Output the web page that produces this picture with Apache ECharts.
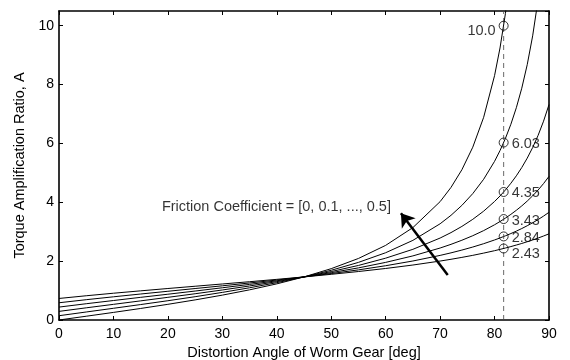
<!DOCTYPE html>
<html><head><meta charset="utf-8">
<script src="https://cdn.jsdelivr.net/npm/echarts@6/dist/echarts.min.js"></script>
<style>html,body{margin:0;padding:0;background:#fff}#c{width:570px;height:360px}</style>
</head><body><div id="c"></div>
<script>
// Distortion angle [deg]
const angles = [0,5,10,15,20,25,30,35,40,45,50,55,60,65,70,72,74,76,78,80,81,82,83,84,85,86,87,88,89,90];
// Torque amplification ratio for friction coefficients 0 ... 0.5
const mu00 = [0,0.128,0.258,0.392,0.533,0.683,0.845,1.025,1.228,1.464,1.745,2.091,2.536,3.140,4.022,4.506,5.106,5.872,6.888,8.303,9.243,10.417,11.923];
const mu01 = [0.146,0.272,0.398,0.525,0.655,0.792,0.938,1.095,1.268,1.464,1.690,1.958,2.286,2.706,3.270,3.557,3.894,4.295,4.783,5.391,5.756,6.172,6.652,7.213,7.877,8.676,9.656,10.889];
const mu02 = [0.293,0.414,0.532,0.650,0.770,0.892,1.020,1.156,1.303,1.464,1.645,1.854,2.101,2.402,2.785,2.970,3.180,3.421,3.699,4.027,4.214,4.420,4.647,4.899,5.181,5.500,5.861,6.275,6.756,7.320];
const mu03 = [0.439,0.553,0.662,0.770,0.876,0.984,1.095,1.210,1.332,1.464,1.609,1.771,1.958,2.178,2.446,2.571,2.710,2.864,3.038,3.236,3.346,3.463,3.590,3.728,3.877,4.041,4.220,4.417,4.636,4.880];
const mu04 = [0.586,0.690,0.788,0.883,0.976,1.069,1.162,1.258,1.358,1.464,1.578,1.703,1.844,2.005,2.195,2.282,2.376,2.479,2.593,2.719,2.788,2.861,2.938,3.020,3.108,3.203,3.304,3.413,3.531,3.660];
const mu05 = [0.732,0.824,0.910,0.991,1.070,1.147,1.224,1.301,1.381,1.464,1.552,1.647,1.751,1.868,2.003,2.063,2.128,2.197,2.273,2.355,2.400,2.446,2.495,2.547,2.601,2.659,2.720,2.785,2.854,2.928];
const curves = [mu00, mu01, mu02, mu03, mu04, mu05];
// Marked values at the reference angle
const markAngle = 81.67;
const markValues = [10.0, 6.03, 4.35, 3.43, 2.84, 2.43];
const markLabels = ['10.0', '6.03', '4.35', '3.43', '2.84', '2.43'];
const xTicks = [0,10,20,30,40,50,60,70,80,90];
const yTicks = [0,2,4,6,8,10];
const annotText = 'Friction Coefficient = [0, 0.1, ..., 0.5]';
const annotPos = [18.9, 3.83];
const arrowFrom = [71.4, 1.53];
const arrowTo = [62.8, 3.63];

const FONT = "'Liberation Sans', Arial, Helvetica, sans-serif";
const FS = 14.5;
const chart = echarts.init(document.getElementById('c'), null, {renderer: 'canvas'});

const curveSeries = curves.map(vals => ({
  type: 'line',
  data: vals.map((v, i) => [angles[i], v]),
  showSymbol: false,
  symbol: 'none',
  clip: true,
  lineStyle: {color: '#000', width: 1},
  silent: true
}));

const labelOffsets = [
  {position: 'left', offset: [-1, 5]},
  {position: 'right', offset: [1, 1]},
  {position: 'right', offset: [1, 1]},
  {position: 'right', offset: [1, 2]},
  {position: 'right', offset: [1, 2]},
  {position: 'right', offset: [1, 6]}
];

const axisLineStyle = {color: '#000', width: 1.6};
const tickStyle = {show: true, inside: true, length: 4, lineStyle: {color: '#000', width: 1}};

const option = {
  animation: false,
  backgroundColor: '#fff',
  textStyle: {fontFamily: FONT},
  grid: {left: 59, right: 21, top: 11, bottom: 40, show: false, containLabel: false, outerBoundsMode: 'none'},
  xAxis: [{
    type: 'value', min: 0, max: 90, interval: 10, position: 'bottom',
    name: 'Distortion Angle of Worm Gear [deg]', nameLocation: 'middle', nameGap: 22,
    nameTextStyle: {color: '#000', fontSize: FS, fontFamily: FONT},
    axisLine: {show: true, onZero: false, lineStyle: axisLineStyle},
    axisTick: tickStyle,
    axisLabel: {color: '#000', fontSize: 14, margin: 7, fontFamily: FONT,
      formatter: v => xTicks.includes(v) ? String(v) : ''},
    splitLine: {show: false}
  }, {
    type: 'value', min: 0, max: 90, interval: 10, position: 'top',
    axisLine: {show: true, onZero: false, lineStyle: axisLineStyle},
    axisTick: tickStyle,
    axisLabel: {show: false}, splitLine: {show: false}
  }],
  yAxis: [{
    type: 'value', min: 0, max: 10.5, interval: 2, position: 'left',
    name: 'Torque Amplification Ratio, A', nameLocation: 'middle', nameGap: 27,
    nameTextStyle: {color: '#000', fontSize: FS, fontFamily: FONT},
    axisLine: {show: true, onZero: false, lineStyle: axisLineStyle},
    axisTick: tickStyle,
    axisLabel: {color: '#000', fontSize: 14, margin: 5, fontFamily: FONT, showMaxLabel: false,
      formatter: v => yTicks.includes(v) ? String(v) : ''},
    splitLine: {show: false}
  }, {
    type: 'value', min: 0, max: 10.5, interval: 2, position: 'right',
    axisLine: {show: true, onZero: false, lineStyle: axisLineStyle},
    axisTick: tickStyle,
    axisLabel: {show: false}, splitLine: {show: false}
  }],
  series: [
    ...curveSeries,
    {
      type: 'line',
      data: [[markAngle, 0], [markAngle, 10.5]],
      symbol: 'none',
      lineStyle: {color: '#444', width: 0.8, type: [5, 4]},
      silent: true
    },
    {
      type: 'scatter',
      symbol: 'circle',
      symbolSize: 9,
      itemStyle: {color: 'rgba(255,255,255,0)', borderColor: '#000', borderWidth: 1},
      data: markValues.map((v, i) => ({
        value: [markAngle, v],
        label: {
          show: true, formatter: markLabels[i],
          position: labelOffsets[i].position, offset: labelOffsets[i].offset,
          distance: 2, color: '#000', fontSize: FS, fontFamily: FONT
        }
      })),
      z: 5
    },
    {
      type: 'scatter',
      symbolSize: 0,
      data: [annotPos],
      label: {show: true, position: 'right', distance: 0, formatter: annotText,
        color: '#000', fontSize: FS, fontFamily: FONT}
    },
    {
      type: 'line',
      data: [arrowFrom, arrowTo],
      symbol: 'none',
      lineStyle: {opacity: 0},
      markLine: {
        silent: true,
        symbol: ['none', 'arrow'],
        symbolSize: 13,
        label: {show: false},
        lineStyle: {color: '#000', width: 2.5, type: 'solid'},
        data: [[{coord: arrowFrom}, {coord: arrowTo}]]
      }
    }
  ]
};
chart.setOption(option);
</script>
</body></html>
